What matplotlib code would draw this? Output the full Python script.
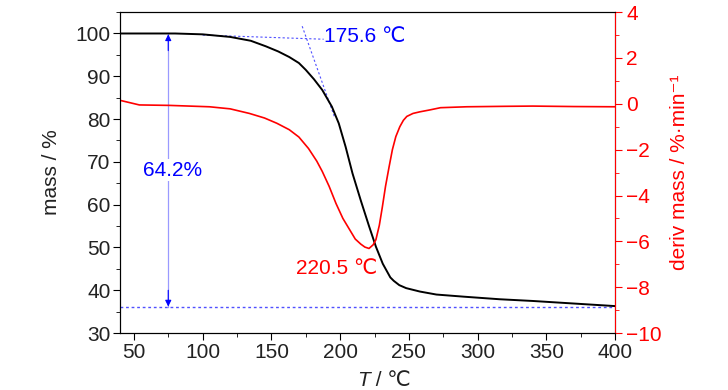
import matplotlib.pyplot as plt
from matplotlib.ticker import MultipleLocator

plt.rcParams['font.family'] = ['Liberation Sans', 'DejaVu Sans']
plt.rcParams['font.size'] = 15

# TG curve (mass %)
T_mass = [40, 80, 100, 120, 135, 146, 155, 163, 170, 175, 181, 187, 194, 199,
          204, 209, 215, 221, 226, 231, 236.5, 239, 243, 248, 258, 270, 290,
          316, 340, 365, 400]
mass = [100.0, 100.0, 99.8, 99.2, 98.3, 97.0, 95.8, 94.5, 93.1, 91.5, 89.3,
        86.8, 82.9, 79.0, 73.5, 67.3, 61.0, 55.0, 50.2, 46.2, 43.0, 42.2, 41.2,
        40.5, 39.7, 39.0, 38.5, 37.9, 37.5, 37.0, 36.3]

# DTG curve (%/min)
T_deriv = [40, 54, 76, 105, 120, 134, 145, 154, 163, 170, 177, 183, 187, 192,
           197, 202, 207, 211, 215, 218, 221, 224, 226, 228.5, 230.7, 233,
           235.6, 238, 240.5, 243.4, 246, 248.5, 253, 258, 265, 273, 292, 320,
           340, 370, 400]
deriv = [0.15, -0.05, -0.07, -0.13, -0.22, -0.42, -0.62, -0.85, -1.13, -1.45,
         -1.95, -2.5, -2.95, -3.6, -4.35, -5.0, -5.5, -5.9, -6.12, -6.25, -6.31,
         -6.15, -5.93, -5.3, -4.5, -3.6, -2.75, -2.0, -1.43, -1.0, -0.72, -0.55,
         -0.42, -0.35, -0.27, -0.17, -0.13, -0.11, -0.1, -0.12, -0.13]

onset_T = 175.6
onset_mass = 98.8
peak_T = 220.5
loss = 64.2
final_mass = 36.2

fig = plt.figure(figsize=(7.28, 3.9), dpi=100)
ax = fig.add_axes([0.165, 0.146, 0.68, 0.823])
ax2 = ax.twinx()

ax.plot(T_mass, mass, color='black', lw=1.4, zorder=3)
ax2.plot(T_deriv, deriv, color='red', lw=1.2)

ax.set_xlim(40, 400)
ax.set_ylim(30, 105)
ax2.set_ylim(-10, 4)

ax.xaxis.set_major_locator(MultipleLocator(50))
ax.xaxis.set_minor_locator(MultipleLocator(25))
ax.yaxis.set_major_locator(MultipleLocator(10))
ax.yaxis.set_minor_locator(MultipleLocator(5))
ax2.yaxis.set_major_locator(MultipleLocator(2))
ax2.yaxis.set_minor_locator(MultipleLocator(1))

ax.tick_params(which='major', direction='out', length=5, color='black', labelcolor='#222222', pad=2)
ax.tick_params(which='minor', direction='out', length=3)
ax2.tick_params(which='major', direction='out', length=5, color='red', labelcolor='red', pad=3)
ax2.tick_params(which='minor', direction='out', length=3, color='red')
ax2.spines['right'].set_color('red')

ax.set_ylabel('mass / %', color='#222222', labelpad=10)
ax2.set_ylabel('deriv mass / %·min⁻¹', color='red', labelpad=6)

# x label: italic T followed by unit
t = fig.text(357 / 728, 0.0, 'T', style='italic', color='#222222', va='bottom')
ax.annotate(' / ℃', xy=(1, 0), xycoords=t, va='bottom', color='#222222')

# mass loss annotation
ax.axhline(final_mass, color='#5050ff', lw=1, ls=(0, (2, 2)))
ax.plot([75, 75], [final_mass, 99.8], color='#9a9aff', lw=0.9)
ax.annotate('', xy=(75, 99.8), xytext=(75, 96),
            arrowprops=dict(arrowstyle='-|>', color='blue', lw=0.8,
                            shrinkA=0, shrinkB=0, mutation_scale=9))
ax.annotate('', xy=(75, final_mass), xytext=(75, 40),
            arrowprops=dict(arrowstyle='-|>', color='blue', lw=0.8,
                            shrinkA=0, shrinkB=0, mutation_scale=9))
ax.text(78.5, 68, '%.1f%%' % loss, color='blue', ha='center', va='center',
        bbox=dict(facecolor='white', edgecolor='none', pad=1))

# onset tangents
ax.plot([100, 188], [onset_mass + 0.83, onset_mass - 0.14], color='#5050ff', lw=0.8, ls=(0, (2, 2)))
ax.plot([172.4, 196], [onset_mass + 2.9, onset_mass - 18.4], color='#5050ff', lw=0.8, ls=(0, (2, 2)))
ax.text(188.5, 99.4, '%.1f ℃' % onset_T, color='blue', ha='left', va='center')

ax2.text(168, -7.2, '%.1f ℃' % peak_T, color='red', ha='left', va='center')

fig.savefig('out.png', dpi=100)
